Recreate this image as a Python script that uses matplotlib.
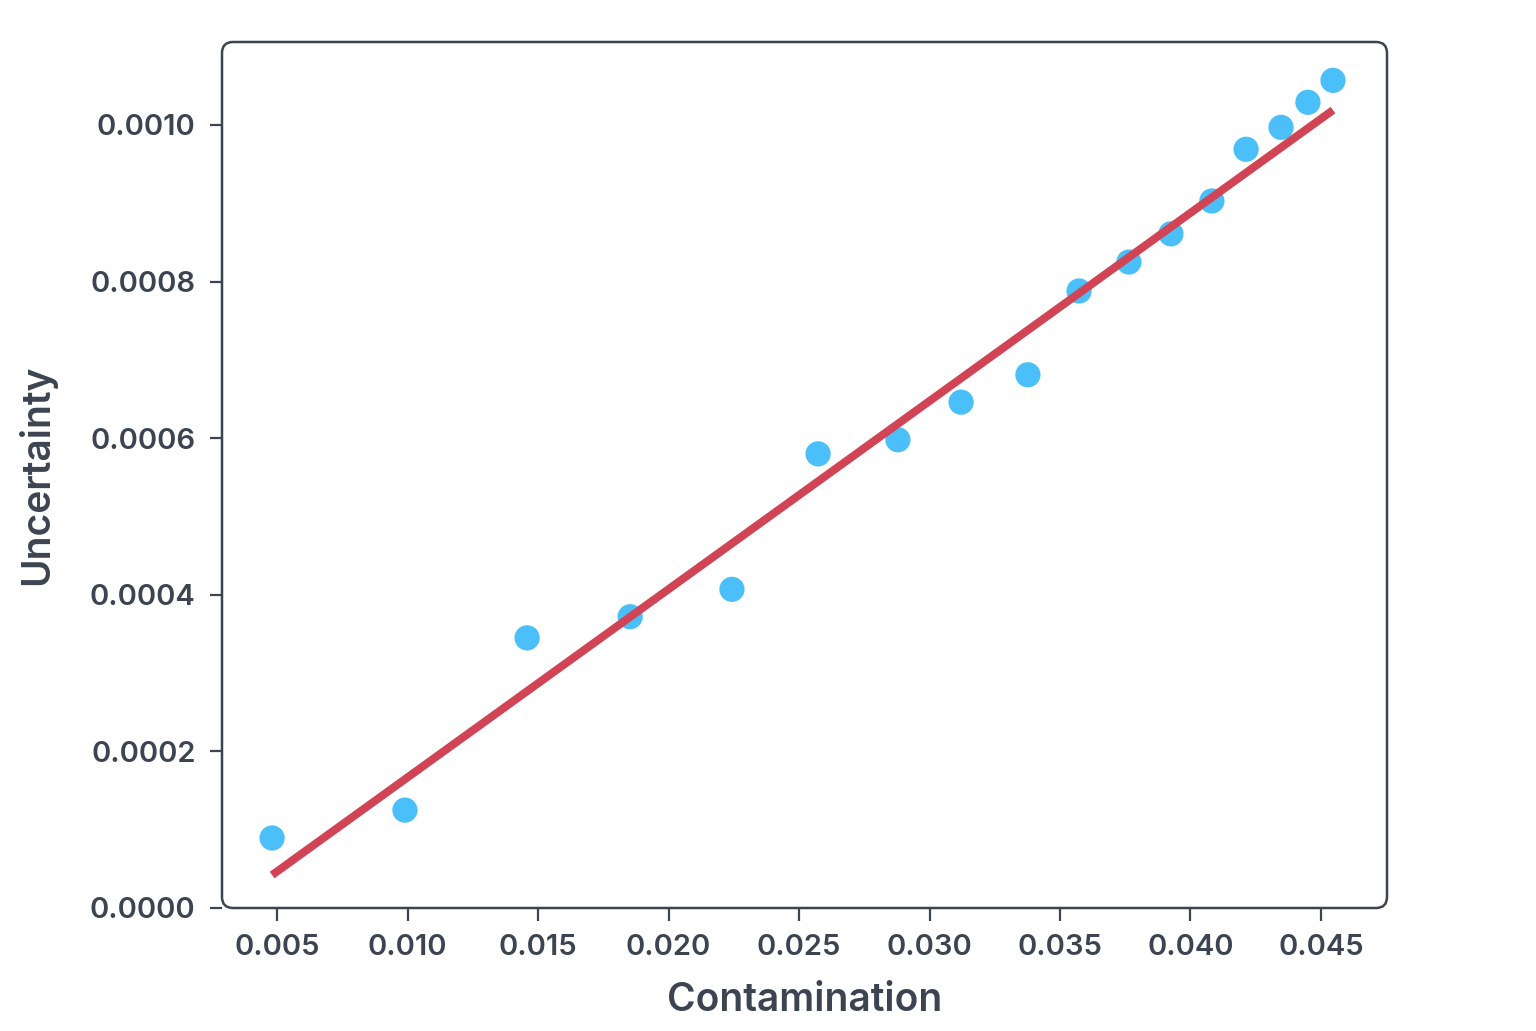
import numpy as np
import matplotlib
matplotlib.use("Agg")
import matplotlib.pyplot as plt
from matplotlib.patches import FancyBboxPatch

TEXT_COLOR = "#3b4450"
POINT_COLOR = "#4bbff9"
LINE_COLOR = "#d04455"

contamination = [0.00481, 0.00990, 0.01458, 0.01853, 0.02243, 0.02573,
                 0.02879, 0.03121, 0.03377, 0.03573, 0.03764, 0.03925,
                 0.04082, 0.04213, 0.04347, 0.04450, 0.04546]
uncertainty = [0.0000894, 0.000125, 0.000345, 0.000372, 0.000407, 0.000580,
               0.000598, 0.000646, 0.000681, 0.000788, 0.000825, 0.000861,
               0.000903, 0.000969, 0.000997, 0.001029, 0.001057]
# fitted line at the first and last contamination value
fit_x = [0.00481, 0.04546]
fit_y = [0.0000421, 0.001019]
x_ticks = [0.005, 0.010, 0.015, 0.020, 0.025, 0.030, 0.035, 0.040, 0.045]
y_ticks = [0.0, 0.0002, 0.0004, 0.0006, 0.0008, 0.0010]

plt.rcParams["font.family"] = ["Inter", "DejaVu Sans"]

fig = plt.figure(figsize=(15.36, 10.31), dpi=100)
ax = fig.add_axes([222 / 1536, 1 - 908 / 1031, (1387 - 222) / 1536, (908 - 42) / 1031])

ax.scatter(contamination, uncertainty, s=330, color=POINT_COLOR, edgecolors="none", zorder=2)
ax.plot(fit_x, fit_y, color=LINE_COLOR, lw=5.8, solid_capstyle="butt", zorder=3)

ax.set_xlim(0.00289, 0.04753)
ax.set_ylim(0.0, 0.001106)
ax.set_xticks(x_ticks)
ax.set_xticklabels([f"{v:.3f}" for v in x_ticks])
ax.set_yticks(y_ticks)
ax.set_yticklabels([f"{v:.4f}" for v in y_ticks])

for s in ax.spines.values():
    s.set_visible(False)

# rounded frame around the plot area
pos = ax.get_position()
W, H = fig.get_size_inches()
frame = FancyBboxPatch((pos.x0 * W, pos.y0 * H), pos.width * W, pos.height * H,
                       boxstyle="round,pad=0,rounding_size=0.11",
                       transform=fig.dpi_scale_trans, fill=False,
                       edgecolor=TEXT_COLOR, linewidth=1.8, zorder=5)
fig.patches.append(frame)

ax.tick_params(axis="both", colors=TEXT_COLOR, labelsize=21, length=9, width=1.6)
ax.tick_params(axis="x", pad=10)
ax.tick_params(axis="y", pad=10)
for lbl in ax.get_xticklabels() + ax.get_yticklabels():
    lbl.set_fontweight("semibold")

ax.set_xlabel("Contamination", fontsize=28, color=TEXT_COLOR, fontweight="semibold", labelpad=15)
ax.set_ylabel("Uncertainty", fontsize=28, color=TEXT_COLOR, fontweight="semibold", labelpad=24)

fig.savefig("out.png", dpi=100)
